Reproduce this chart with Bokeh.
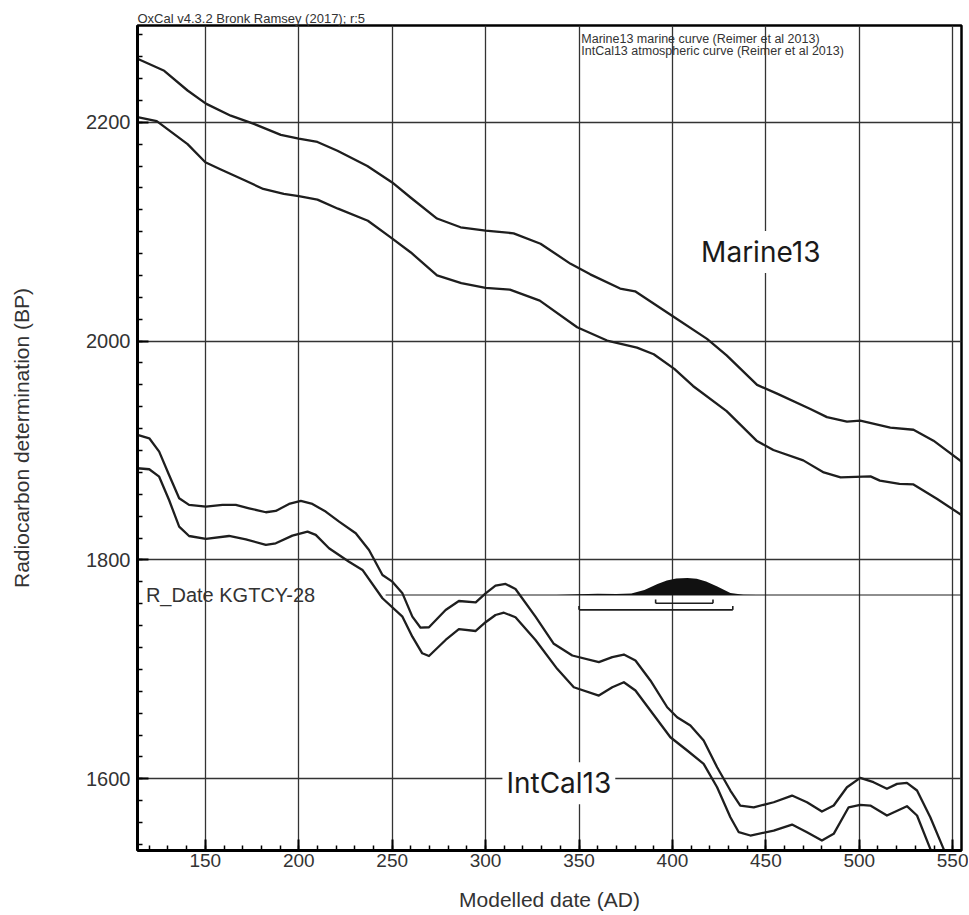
from bokeh.plotting import figure
from bokeh.models import Range1d, FixedTicker, Label
from bokeh.embed import file_html
from bokeh.resources import INLINE

# ---------------- data ----------------
x_ticks = [150, 200, 250, 300, 350, 400, 450, 500, 550]
x_minor = list(range(120, 555, 10))
y_ticks = [1600, 1800, 2000, 2200]
y_minor = list(range(1540, 2290, 20))

marine_hi_year = [113.7, 128, 140.5, 150.3, 163.6, 176, 190.4, 200, 210, 220.7, 236.7, 250, 260, 274,
                  286.6, 300, 315, 329.4, 345.5, 356, 372, 380, 400, 418.5, 429, 445.3, 456, 473.8,
                  482.7, 493.4, 500.5, 516.6, 529, 539.7, 554.7]
marine_hi_bp = [2258, 2247, 2229, 2217, 2206, 2198.5, 2188.5, 2185, 2182, 2174, 2160, 2145, 2131, 2112,
                2104, 2101, 2098.5, 2089, 2070.6, 2061, 2048, 2045.5, 2023, 2002, 1987, 1960, 1952, 1938,
                1930.5, 1926.4, 1927.3, 1921, 1919, 1909, 1890]

marine_lo_year = [113.7, 124, 140.5, 150, 158, 171, 181, 192, 200, 210, 221, 237, 249, 260, 274, 287,
                  300, 313, 329, 349, 365, 381, 390, 401, 411, 429, 445, 454, 470, 481, 490, 506, 511,
                  521.5, 529, 541.5, 554.7]
marine_lo_bp = [2204.6, 2201, 2180, 2163.4, 2157, 2147, 2139, 2134.5, 2132.4, 2129.3, 2121, 2110, 2095,
                2081, 2060, 2053, 2048.6, 2047, 2037, 2012.6, 2000.5, 1994, 1988, 1974.6, 1959, 1936,
                1909, 1900.5, 1891, 1880, 1875.5, 1876.4, 1872.5, 1869.5, 1869, 1856, 1841]

intcal_hi_year = [113.7, 120, 125.3, 130.6, 136, 141.3, 150.3, 159.2, 166.3, 173.4, 182.4, 187.7, 194.8,
                  201.1, 207.3, 214.4, 221.6, 230.5, 237.6, 244.8, 250.1, 255.5, 260.8, 265.2, 269.7,
                  278.6, 285.7, 294.7, 300, 305.3, 310.7, 316, 326.7, 336.5, 346.4, 360.6, 367.8, 374,
                  380.2, 388.2, 397.2, 402.5, 409.6, 416.7, 423.9, 431, 436.3, 443.5, 454.2, 464, 472,
                  480, 486.3, 493.4, 500.5, 507.6, 514.8, 520.2, 525.5, 530.9, 538, 545.1, 548]
intcal_hi_bp = [1914.3, 1911.2, 1899, 1877.7, 1856.4, 1850.3, 1848.7, 1850.3, 1850.3, 1847.2, 1843.6,
                1844.8, 1851.2, 1853.9, 1851.2, 1844.2, 1835, 1824.4, 1809.1, 1786.3, 1780.2, 1769.5,
                1748.2, 1738.1, 1738.5, 1754.3, 1762.5, 1761.3, 1769.5, 1776.5, 1778.1, 1773.5, 1748.2,
                1723.4, 1712.7, 1706.6, 1711.2, 1713.6, 1708.1, 1689.9, 1665.4, 1656.3, 1648.7, 1635,
                1610.6, 1589.3, 1575.6, 1574, 1578.6, 1584.7, 1578.6, 1570.1, 1575.6, 1592.3, 1600.9,
                1596.9, 1590.9, 1595.4, 1596.3, 1589.3, 1564.9, 1536, 1524]

intcal_lo_year = [113.7, 120, 125.3, 130.6, 136, 141.3, 150.3, 162.7, 171.7, 182.4, 187.7, 196.6, 204.7,
                  209.1, 216.2, 226.9, 234.1, 244.8, 255.5, 260.8, 266.1, 269.7, 278.6, 285.7, 294.7,
                  300, 305.3, 309.8, 316, 326.7, 338.3, 347.2, 360.6, 367.8, 374, 380.2, 388.2, 398.9,
                  407.9, 416.7, 423.9, 431, 435.5, 441.7, 454.2, 464, 472, 480, 486.3, 494.3, 500.5,
                  505.9, 514.8, 525.5, 530.9, 538, 540.7]
intcal_lo_bp = [1883.8, 1882.9, 1876.1, 1854.8, 1830.4, 1821.9, 1819.2, 1821.9, 1818.9, 1813.7, 1815.2,
                1822.2, 1825.9, 1822.9, 1810.7, 1798.4, 1790.9, 1765, 1748.2, 1729.9, 1714.7, 1712.2,
                1726.9, 1736.7, 1735.1, 1743.1, 1749.7, 1751.8, 1747.6, 1726.9, 1700.5, 1683.7, 1676.1,
                1683.7, 1688.3, 1680.7, 1662.4, 1638, 1625.9, 1613.7, 1592.3, 1564.9, 1551.2, 1548.2,
                1552.7, 1558.2, 1551.2, 1543.6, 1549.7, 1574, 1576.2, 1575.6, 1566.5, 1575, 1566.5,
                1536, 1522]

# R_Date KGTCY-28 : measured BP and calibrated probability (relative)
rdate_bp = 1768
dist_year = [338, 350, 360, 370, 378, 385, 392, 397, 402, 408, 413, 418, 424, 431, 438, 445]
dist_prob = [0, 0.04, 0.07, 0.06, 0.08, 0.3, 0.65, 0.85, 0.97, 1.0, 0.95, 0.8, 0.5, 0.12, 0.02, 0]
range_68 = (391, 421.7)
range_95 = (350, 432.3)

# ---------------- figure ----------------
FONT = "Liberation Sans"
INK = "#1e1e1e"

p = figure(width=968, height=915, output_backend="svg", toolbar_location=None,
           x_range=Range1d(113.7, 554.7), y_range=Range1d(1534.5, 2288.4),
           min_border_left=137, min_border_right=7, min_border_top=25, min_border_bottom=65,
           background_fill_color="white", border_fill_color="white")

p.title.text = "OxCal v4.3.2 Bronk Ramsey (2017); r:5"
p.title.align = "left"
p.title.text_font = FONT
p.title.text_font_size = "13px"
p.title.text_font_style = "normal"
p.title.text_color = "#333333"
p.title.offset = 0
p.title.standoff = 0

p.outline_line_color = "black"
p.outline_line_width = 2.5
p.outline_line_alpha = 1

p.xaxis.ticker = FixedTicker(ticks=x_ticks, minor_ticks=x_minor)
p.yaxis.ticker = FixedTicker(ticks=y_ticks, minor_ticks=y_minor)

for ax in (p.xaxis[0], p.yaxis[0]):
    ax.axis_line_color = "black"
    ax.axis_line_width = 3
    ax.major_tick_in = 11
    ax.major_tick_out = 0
    ax.minor_tick_in = 5
    ax.minor_tick_out = 0
    ax.major_tick_line_color = "black"
    ax.major_tick_line_width = 2
    ax.minor_tick_line_color = "black"
    ax.minor_tick_line_width = 1.5
    ax.major_label_text_font = FONT
    ax.major_label_text_color = "#333333"
    ax.axis_label_text_font = FONT
    ax.axis_label_text_font_style = "normal"
    ax.axis_label_text_color = "#333333"
    ax.axis_label_text_font_size = "21px"

p.xaxis.major_label_text_font_size = "19px"
p.yaxis.major_label_text_font_size = "20px"
p.xaxis.major_label_standoff = 3
p.yaxis.major_label_standoff = 7
p.xaxis.axis_label = "Modelled date (AD)"
p.yaxis.axis_label = "Radiocarbon determination (BP)"
p.xaxis.axis_label_standoff = 18
p.yaxis.axis_label_standoff = 50

p.grid.grid_line_color = "#333333"
p.grid.grid_line_width = 1.3
p.grid.grid_line_alpha = 1

# curves
for xs, ys in ((marine_hi_year, marine_hi_bp), (marine_lo_year, marine_lo_bp),
               (intcal_hi_year, intcal_hi_bp), (intcal_lo_year, intcal_lo_bp)):
    p.line(xs, ys, line_color=INK, line_width=2.3, line_join="round")

# R_Date distribution
DIST_H = 15.5      # height of the distribution peak, in BP units (layout)
p.segment(x0=[246.5], y0=[rdate_bp], x1=[554.7], y1=[rdate_bp], line_color=INK, line_width=1.2)
p.varea(x=dist_year, y1=[rdate_bp] * len(dist_year),
        y2=[rdate_bp + DIST_H * v for v in dist_prob], fill_color="#111111")

# ranges brackets
TICK = 3.5
for (lo, hi), off in ((range_68, 7.6), (range_95, 13.6)):
    yb = rdate_bp - off
    p.segment(x0=[lo, lo, hi], y0=[yb, yb, yb], x1=[hi, lo, hi], y1=[yb, yb + TICK, yb + TICK],
              line_color=INK, line_width=1.6)

# texts
p.add_layout(Label(x=118.2, y=rdate_bp, text="R_Date KGTCY-28", text_baseline="middle",
                   text_font=FONT, text_font_size="20px", text_color="#333333"))
p.add_layout(Label(x=413.2, y=2081.4, text="Marine13", text_baseline="middle",
                   text_font="Inter", text_font_size="28px", text_color="#1a1a1a",
                   background_fill_color="white", padding=4))
p.add_layout(Label(x=309, y=1596, text="IntCal13", text_baseline="middle",
                   text_font="Inter", text_font_size="28px", text_color="#1a1a1a",
                   background_fill_color="white", padding=4))
p.add_layout(Label(x=351.2, y=2276.1, text="Marine13 marine curve (Reimer et al 2013)",
                   text_baseline="alphabetic", text_font=FONT, text_font_size="12.5px",
                   text_color="#333333"))
p.add_layout(Label(x=351.2, y=2265.3, text="IntCal13 atmospheric curve (Reimer et al 2013)",
                   text_baseline="alphabetic", text_font=FONT, text_font_size="12.5px",
                   text_color="#333333"))

open("out.html", "w").write(file_html(p, INLINE))
